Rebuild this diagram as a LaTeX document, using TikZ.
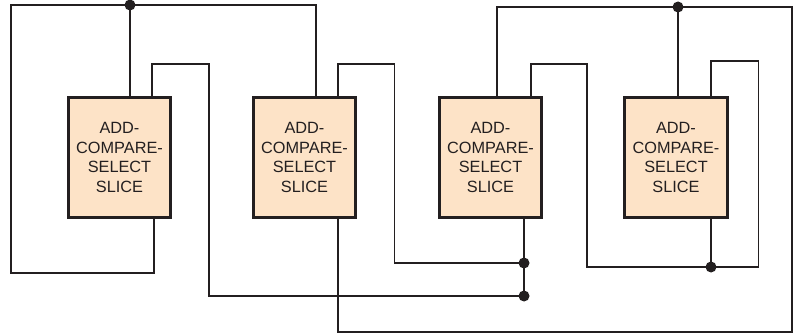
\documentclass[tikz,border=0pt]{standalone}
\usepackage{fontspec}
\setmainfont{Liberation Sans}
\usetikzlibrary{calc, positioning}

\definecolor{wirec}{RGB}{35,31,32}
\definecolor{acsfill}{RGB}{253,227,199}

\tikzset{
  wire/.style={draw=wirec, line width=1.4pt},
  acs/.style={draw=wirec, line width=2.6pt, fill=acsfill, text=wirec,
    minimum width=102.5pt, minimum height=119.5pt, inner sep=0pt,
    align=center, font=\fontsize{16.3}{19.8}\selectfont},
  junc/.style={circle, fill=wirec, inner sep=0pt, minimum size=11pt}
}

\begin{document}
\begin{tikzpicture}[x=1pt, y=-1pt]
\useasboundingbox (0,0) rectangle (794,334);

% the four slices
\foreach \n/\x in {1/119.5, 2/304.5, 3/490.5, 4/676}
  \node[acs] (acs\n) at (\x,157.5) {ADD-\\COMPARE-\\SELECT\\SLICE};

% junction dots
\node[junc] (t1) at (130,5) {};
\node[junc] (t2) at (678,7) {};
\node[junc] (m1) at (524,263) {};
\node[junc] (m2) at (524,296) {};
\node[junc] (m3) at (711,267) {};

% left bus over slices 1 and 2
\draw[wire] (t1 |- acs1.north) -- (t1.center);
\draw[wire] (t1.center) -| (11,273) -| ([xshift=34.5pt]acs1.south);
\draw[wire] (t1.center) -| ([xshift=11.5pt]acs2.north);

% cross links to the middle junctions
\draw[wire] ([xshift=32.5pt]acs1.north) |- (209,64) |- (m2.center);
\draw[wire] ([xshift=33.5pt]acs2.north) |- (394.5,64) |- (m1.center);
\draw[wire] ([xshift=33.5pt]acs3.south) -- (m2.center);

% right bus over slices 3 and 4
\draw[wire] ([xshift=33.5pt]acs2.south) |- (792,332) |- (t2.center);
\draw[wire] (t2.center) -| ([xshift=6.5pt]acs3.north);
\draw[wire] (t2 |- acs4.north) -- (t2.center);

% loop through slice 4
\draw[wire] ([xshift=40.5pt]acs3.north) |- (587,64) |- (m3.center)
  -| (758.5,61) -| ([xshift=35pt]acs4.north);
\draw[wire] ([xshift=35pt]acs4.south) -- (m3.center);
\end{tikzpicture}
\end{document}
